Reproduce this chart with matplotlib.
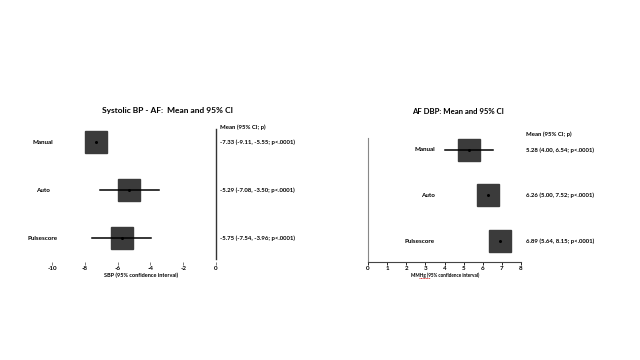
import matplotlib
matplotlib.use("Agg")
import matplotlib.pyplot as plt
import matplotlib.transforms as mtransforms
from matplotlib.lines import Line2D

plt.rcParams["font.family"] = ["Lato", "DejaVu Sans"]

W, H = 640, 360

# --- data ---
groups = ["Manual", "Auto", "Pulsescore"]

sbp_mean = [-7.33, -5.29, -5.75]
sbp_lo = [-9.11, -7.08, -7.54]
sbp_hi = [-5.55, -3.50, -3.96]
sbp_ticks = [-10, -8, -6, -4, -2, 0]

dbp_mean = [5.28, 6.26, 6.89]
dbp_lo = [4.00, 5.00, 5.64]
dbp_hi = [6.54, 7.52, 8.15]
dbp_ticks = [0, 1, 2, 3, 4, 5, 6, 7, 8]

# whiskers are only visible for some rows in the original slide
sbp_whisker = [False, True, True]
dbp_whisker = [True, False, False]


def px_box(x0, x1, y0, y1):
    return [x0 / W, 1 - y1 / H, (x1 - x0) / W, (y1 - y0) / H]


def fx(x):
    return x / W


def fy(y):
    return 1 - y / H


def ci_text(m, lo, hi):
    return f"{m:.2f} ({lo:.2f}, {hi:.2f}; p<.0001)"


def forest(ax, means, los, his, whisk):
    ys = [3, 2, 1]
    for y, m, lo, hi, w in zip(ys, means, los, his, whisk):
        if w:
            ax.plot([lo, hi], [y, y], color="black", lw=1.1, zorder=3)
        ax.plot(m, y, marker="s", ms=16, color="#3b3b3b", zorder=2)
        ax.plot(m, y, marker="o", ms=1.2, color="black", zorder=4)
    return ys


fig = plt.figure(figsize=(6.4, 3.6), dpi=100)
fig.patch.set_facecolor("white")

# ---------------- left panel: SBP ----------------
ax1 = fig.add_axes(px_box(52, 216, 128, 262))
ys = forest(ax1, sbp_mean, sbp_lo, sbp_hi, sbp_whisker)
ax1.set_xlim(-10, 0)
ax1.set_ylim(0.51, 3.30)
ax1.axvline(0, ymin=0.02, ymax=0.99, color="#333333", lw=1, clip_on=False)
for s in ax1.spines.values():
    s.set_visible(False)
ax1.set_yticks([])
ax1.set_xticks(sbp_ticks)
ax1.set_xticklabels([str(t) for t in sbp_ticks], fontsize=4.5, fontweight="bold")
ax1.tick_params(axis="x", length=2, width=0.6, pad=1, color="#666666")

tr1 = mtransforms.blended_transform_factory(fig.transFigure, ax1.transData)
for y, g, m, lo, hi in zip(ys, groups, sbp_mean, sbp_lo, sbp_hi):
    ax1.text(fx(43), y, g, transform=tr1, ha="center", va="center",
             fontsize=4.5, fontweight="bold")
    ax1.text(fx(220), y, ci_text(m, lo, hi), transform=tr1, ha="left",
             va="center", fontsize=4.3, fontweight="bold")

fig.text(fx(220), fy(127), "Mean (95% CI; p)", ha="left", va="center",
         fontsize=4.3, fontweight="bold")
fig.text(fx(168), fy(111), "Systolic BP - AF:  Mean and 95% CI", ha="center",
         va="center", fontsize=6, fontweight="bold")
fig.text(fx(141), fy(275), "SBP (95% confidence interval)", ha="center",
         va="center", fontsize=4, fontweight="bold")

# ---------------- right panel: DBP ----------------
ax2 = fig.add_axes(px_box(368, 521, 138, 262))
ys = forest(ax2, dbp_mean, dbp_lo, dbp_hi, dbp_whisker)
ax2.set_xlim(0, 8)
ax2.set_ylim(0.54, 3.26)
ax2.spines["top"].set_visible(False)
ax2.spines["right"].set_visible(False)
ax2.spines["left"].set_color("#888888")
ax2.spines["left"].set_linewidth(0.8)
ax2.spines["bottom"].set_color("#444444")
ax2.spines["bottom"].set_linewidth(0.8)
ax2.set_yticks([])
ax2.set_xticks(dbp_ticks)
ax2.set_xticklabels([str(t) for t in dbp_ticks], fontsize=4.5, fontweight="bold")
ax2.tick_params(axis="x", length=2, width=0.6, pad=1)

tr2 = mtransforms.blended_transform_factory(fig.transFigure, ax2.transData)
for y, g, m, lo, hi in zip(ys, groups, dbp_mean, dbp_lo, dbp_hi):
    ax2.text(fx(435), y, g, transform=tr2, ha="right", va="center",
             fontsize=4.5, fontweight="bold")
    ax2.text(fx(526), y, ci_text(m, lo, hi), transform=tr2, ha="left",
             va="center", fontsize=4.3, fontweight="bold")

fig.text(fx(526), fy(134), "Mean (95% CI; p)", ha="left", va="center",
         fontsize=4.3, fontweight="bold")
fig.text(fx(458), fy(112), "AF DBP: Mean and 95% CI", ha="center",
         va="center", fontsize=5.6, fontweight="bold")
fig.text(fx(445), fy(275), "MMHg (95% confidence interval)", ha="center",
         va="center", fontsize=3.3, fontweight="bold")
# spell-check squiggle under "MMHg"
fig.add_artist(Line2D([fx(419), fx(430)], [fy(278), fy(278)],
                      color="#e03030", lw=0.7, ls=(0, (1, 0.6))))

fig.savefig("out.png", dpi=100, facecolor="white")
